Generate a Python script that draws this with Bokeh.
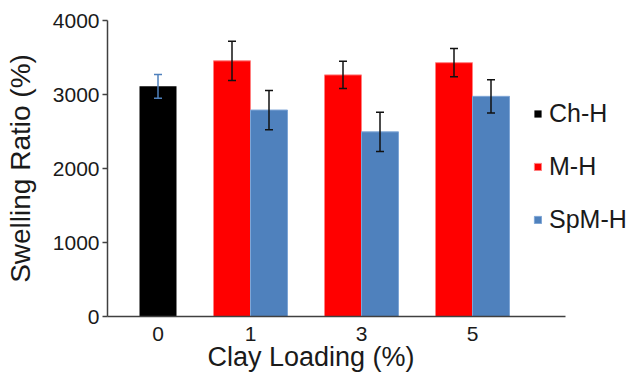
from bokeh.plotting import figure
from bokeh.models import (Range1d, FixedTicker, Legend, LegendItem, Whisker,
                          ColumnDataSource, TeeHead, Title)
from bokeh.embed import file_html
from bokeh.resources import INLINE

# ---- data ----
loadings = ["0", "1", "3", "5"]
ch_loading = ["0"]
ch_h = [3110]
ch_h_err = [160]
m_loading = ["1", "3", "5"]
m_h = [3455, 3265, 3430]
m_h_err = [265, 185, 190]
spm_h = [2790, 2495, 2975]
spm_h_err = [265, 265, 225]
y_ticks = [0, 1000, 2000, 3000, 4000]

# ---- layout / style ----
FONT = "Liberation Sans"
group_center = {"0": 50.5, "1": 143, "3": 254, "5": 365}
bar_w = 37
axis_len = 458
frame_w = 524
col_ch, col_m, col_spm = "#000000", "#FF0000", "#4F81BD"

p = figure(width=631, height=378, output_backend="svg", toolbar_location=None,
           x_range=Range1d(0, frame_w), y_range=Range1d(0, 4000),
           min_border_left=107, min_border_right=0, min_border_top=20,
           min_border_bottom=62)
p.outline_line_color = None
p.xgrid.visible = False
p.ygrid.visible = False


def make_src(labels, vals, errs, offset):
    xs = [group_center[l] + offset for l in labels]
    return ColumnDataSource(dict(x=xs, top=vals,
                                 upper=[v + e for v, e in zip(vals, errs)],
                                 lower=[v - e for v, e in zip(vals, errs)]))


src_ch = make_src(ch_loading, ch_h, ch_h_err, 0)
src_m = make_src(m_loading, m_h, m_h_err, -bar_w / 2)
src_spm = make_src(m_loading, spm_h, spm_h_err, bar_w / 2)

r_ch = p.vbar(x="x", top="top", width=bar_w, source=src_ch, fill_color=col_ch,
              line_color=None)
r_m = p.vbar(x="x", top="top", width=bar_w, source=src_m, fill_color=col_m,
             line_color="#ff8080", line_width=1)
r_spm = p.vbar(x="x", top="top", width=bar_w, source=src_spm, fill_color=col_spm,
               line_color="#7fa6d6", line_width=1)

for src, c in [(src_ch, col_spm), (src_m, "#111111"), (src_spm, "#111111")]:
    w = Whisker(base="x", upper="upper", lower="lower", source=src,
                line_color=c, line_width=1.5, level="overlay",
                upper_head=TeeHead(size=8, line_color=c, line_width=1.5),
                lower_head=TeeHead(size=8, line_color=c, line_width=1.5))
    p.add_layout(w)

# axes
p.xaxis.bounds = (0, axis_len)
p.xaxis.ticker = FixedTicker(ticks=[group_center[l] for l in loadings])
p.xaxis.major_label_overrides = {group_center[l]: l for l in loadings}
p.xaxis.major_tick_out = 0
p.xaxis.major_tick_in = 0
p.xaxis.minor_tick_out = 0
p.xaxis.minor_tick_in = 0
p.xaxis.major_label_standoff = 10

p.yaxis.ticker = FixedTicker(ticks=y_ticks)
p.yaxis.major_tick_out = 5
p.yaxis.major_tick_in = 0
p.yaxis.minor_tick_out = 0
p.yaxis.minor_tick_in = 0
p.yaxis.major_label_standoff = 3
p.yaxis.axis_label = "Swelling Ratio (%)"
p.yaxis.axis_label_standoff = 14

for ax in (p.xaxis[0], p.yaxis[0]):
    ax.axis_line_color = "#404040"
    ax.axis_line_width = 1.5
    ax.major_tick_line_color = "#404040"
    ax.major_tick_line_width = 1.5
    ax.major_label_text_font = FONT
    ax.major_label_text_font_size = "21px"
    ax.major_label_text_color = "#1a1a1a"
    ax.axis_label_text_font = FONT
    ax.axis_label_text_font_style = "normal"
    ax.axis_label_text_color = "#1a1a1a"
p.yaxis.axis_label_text_font_size = "28px"

xtitle = Title(text="Clay Loading (%)", align="left", offset=100, standoff=-7,
               text_font=FONT, text_font_size="27px", text_font_style="normal",
               text_color="#1a1a1a")
p.add_layout(xtitle, "below")

legend = Legend(items=[LegendItem(label="Ch-H", renderers=[r_ch]),
                       LegendItem(label="M-H", renderers=[r_m]),
                       LegendItem(label="SpM-H", renderers=[r_spm])],
                location=(426, 82), glyph_width=9, glyph_height=9,
                label_text_font=FONT, label_text_font_size="25px",
                label_text_color="#1a1a1a", label_standoff=7, spacing=23,
                label_height=30, padding=0, margin=0, border_line_color=None,
                background_fill_alpha=0)
p.add_layout(legend)

open("out.html", "w").write(file_html(p, INLINE))
